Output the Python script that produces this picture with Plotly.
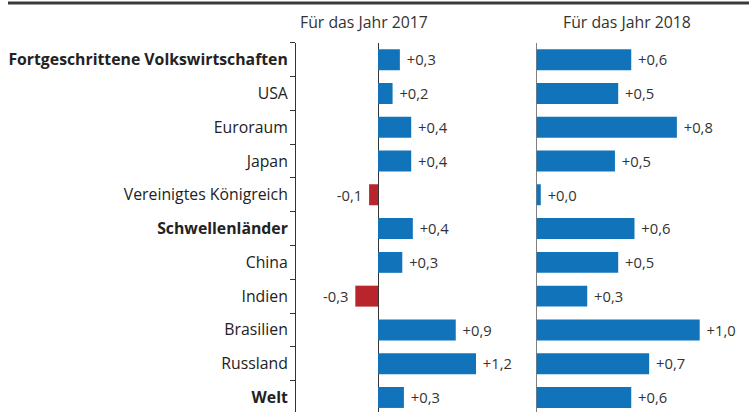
import plotly.graph_objects as go

categories = ["Fortgeschrittene Volkswirtschaften", "USA", "Euroraum", "Japan",
              "Vereinigtes Königreich", "Schwellenländer", "China", "Indien",
              "Brasilien", "Russland", "Welt"]
bold_rows = ["Fortgeschrittene Volkswirtschaften", "Schwellenländer", "Welt"]

values_2017 = [0.27, 0.18, 0.41, 0.41, -0.11, 0.43, 0.30, -0.28, 0.96, 1.21, 0.32]
labels_2017 = ["+0,3", "+0,2", "+0,4", "+0,4", "-0,1", "+0,4", "+0,3", "-0,3", "+0,9", "+1,2", "+0,3"]
values_2018 = [0.58, 0.50, 0.86, 0.48, 0.025, 0.60, 0.50, 0.31, 1.00, 0.69, 0.58]
labels_2018 = ["+0,6", "+0,5", "+0,8", "+0,5", "+0,0", "+0,6", "+0,5", "+0,3", "+1,0", "+0,7", "+0,6"]
titles = ["Für das Jahr 2017", "Für das Jahr 2018"]

BLUE = "#1174bb"
RED = "#b8252c"
FONT = "Open Sans"
W, H = 749, 412


def padded(labels, values):
    # a little air between bar end and its label
    return [f" {t}" if v >= 0 else f"{t} " for t, v in zip(labels, values)]


fig = go.Figure()
for vals, labs, xa in [(values_2017, labels_2017, "x"), (values_2018, labels_2018, "x2")]:
    fig.add_trace(go.Bar(
        y=categories, x=vals, orientation="h",
        marker=dict(color=[BLUE if v >= 0 else RED for v in vals], line=dict(width=0)),
        text=padded(labs, vals), textposition="outside", cliponaxis=False,
        textfont=dict(size=15.5, color="#333", family=FONT),
        xaxis=xa, yaxis="y"))

ticktext = [f"<b>{c}</b>" if c in bold_rows else c for c in categories]

px1 = 81.0   # pixels per unit, left panel
px2 = 163.0  # pixels per unit, right panel
d1 = (296, 520)
z1 = 378
d2 = (530, 749)
z2 = 536.7

fig.update_layout(
    width=W, height=H,
    margin=dict(l=0, r=0, t=0, b=0),
    paper_bgcolor="white", plot_bgcolor="white",
    showlegend=False, bargap=0.38,
    font=dict(family=FONT, size=15, color="#333"),
    xaxis=dict(domain=[d1[0] / W, d1[1] / W],
               range=[-(z1 - d1[0]) / px1, (d1[1] - z1) / px1],
               showgrid=False, showticklabels=False, ticks="",
               zeroline=True, zerolinecolor="#333", zerolinewidth=1),
    xaxis2=dict(domain=[d2[0] / W, 1],
                range=[-(z2 - d2[0]) / px2, (W - z2) / px2],
                showgrid=False, showticklabels=False, ticks="",
                zeroline=True, zerolinecolor="#808080", zerolinewidth=1.3),
    yaxis=dict(domain=[0, 1 - 42.8 / H], range=[10.43, -0.5],
               anchor="x", tickmode="array", tickvals=categories, ticktext=ticktext,
               tickson="boundaries", ticks="outside", ticklen=5, tickcolor="#333",
               ticklabelstandoff=4,
               showline=True, linecolor="#333", linewidth=1,
               showgrid=False, tickfont=dict(size=15.8, color="#222", family=FONT)),
)

fig.add_shape(type="line", xref="paper", yref="paper",
              x0=8 / W, x1=1, y0=1 - 3 / H, y1=1 - 3 / H,
              line=dict(color="#3a3a3a", width=3))

for cx, t in zip([364, 627], titles):
    fig.add_annotation(x=cx / W, y=1 - 22 / H, xref="paper", yref="paper",
                       text=t, showarrow=False, xanchor="center", yanchor="middle",
                       font=dict(size=15.8, color="#333", family=FONT))

fig.write_html("out.html", config={"displayModeBar": False},
               post_script="document.body.style.margin='0';")
